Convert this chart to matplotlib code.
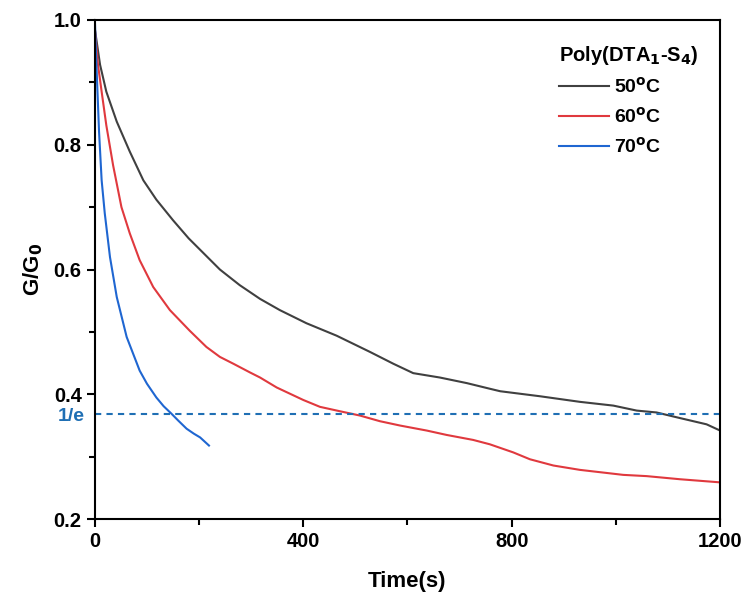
import numpy as np
import matplotlib.pyplot as plt
from matplotlib.ticker import MultipleLocator
from matplotlib.transforms import blended_transform_factory, offset_copy

plt.rcParams['font.family'] = ['Liberation Sans', 'DejaVu Sans']
plt.rcParams['font.weight'] = 'bold'
plt.rcParams['mathtext.default'] = 'bf'

# data
t_50 = [0, 10, 22, 42, 67, 93, 118, 150, 180, 210, 240, 278, 317, 355, 406,
        464, 496, 528, 573, 611, 662, 714, 758, 778, 854, 931, 995, 1040, 1078, 1123,
        1174, 1200]
g_50 = [0.985, 0.928, 0.885, 0.837, 0.789, 0.743, 0.712, 0.679, 0.650, 0.625,
        0.600, 0.575, 0.553, 0.535, 0.514, 0.494, 0.481, 0.468, 0.449, 0.434,
        0.427, 0.418, 0.409, 0.405, 0.397, 0.388, 0.382, 0.374, 0.371, 0.362, 0.352,
        0.342]

t_60 = [0, 6, 13, 22, 35, 51, 67, 86, 112, 144, 182, 214, 240, 266, 298, 317, 349,
        400, 432, 470, 509, 547, 586, 637, 675, 726, 758, 803, 835, 880, 931, 1014,
        1059, 1123, 1200]
g_60 = [0.985, 0.928, 0.885, 0.831, 0.767, 0.700, 0.658, 0.615, 0.572, 0.535,
        0.502, 0.476, 0.460, 0.449, 0.435, 0.427, 0.411, 0.391, 0.380, 0.373, 0.366,
        0.357, 0.350, 0.342, 0.335, 0.327, 0.320, 0.307, 0.296, 0.286, 0.279, 0.271,
        0.269, 0.264, 0.259]

t_70 = [0, 3, 8, 13, 19, 29, 42, 61, 86, 100, 118, 132, 147, 160, 176, 190, 202, 219]
g_70 = [1.0, 0.928, 0.821, 0.743, 0.690, 0.620, 0.556, 0.492, 0.438, 0.417, 0.395,
        0.381, 0.369, 0.358, 0.345, 0.337, 0.331, 0.318]

labels = ['50$^{o}$C', '60$^{o}$C', '70$^{o}$C']
colors = ['#404040', '#e0393e', '#1f66d1']
inv_e = 1 / np.e


def main():
    fig = plt.figure(figsize=(7.47, 6.03), dpi=100)
    ax = fig.add_axes([0.127, 0.139, 0.837, 0.828])

    for t, g, lab, c in zip([t_50, t_60, t_70], [g_50, g_60, g_70], labels, colors):
        ax.plot(t, g, color=c, lw=1.5, label=lab)

    ax.axhline(inv_e, color='#1f6fb4', lw=1.5, ls=(0, (3, 2.5)))
    trans = blended_transform_factory(ax.transAxes, ax.transData)
    trans = offset_copy(trans, fig=fig, x=-10, y=-2, units='dots')
    ax.text(0, inv_e, '1/e', transform=trans, ha='right', va='center',
            color='#1f6fb4', fontsize=14, fontweight='bold')

    ax.set_xlim(0, 1200)
    ax.set_ylim(0.2, 1.0)
    ax.xaxis.set_major_locator(MultipleLocator(400))
    ax.xaxis.set_minor_locator(MultipleLocator(200))
    ax.yaxis.set_major_locator(MultipleLocator(0.2))
    ax.yaxis.set_minor_locator(MultipleLocator(0.1))
    ax.tick_params(which='major', direction='out', length=6, width=1.5, labelsize=14.5)
    ax.tick_params(which='minor', direction='out', length=4, width=1.5)
    for s in ax.spines.values():
        s.set_linewidth(1.5)

    ax.set_xlabel('Time(s)', fontsize=16, fontweight='bold', labelpad=14)
    ax.set_ylabel('G/G$_0$', fontsize=16, fontweight='bold', labelpad=6)

    leg = ax.legend(title='Poly(DTA$_1$-S$_4$)', frameon=False, loc='upper right',
                    fontsize=14, title_fontsize=14.5, handlelength=2.6,
                    handletextpad=0.25, labelspacing=0.5, alignment='left',
                    bbox_to_anchor=(0.993, 0.986))
    leg.get_title().set_fontweight('bold')

    fig.savefig('out.png', dpi=100)


if __name__ == '__main__':
    main()
